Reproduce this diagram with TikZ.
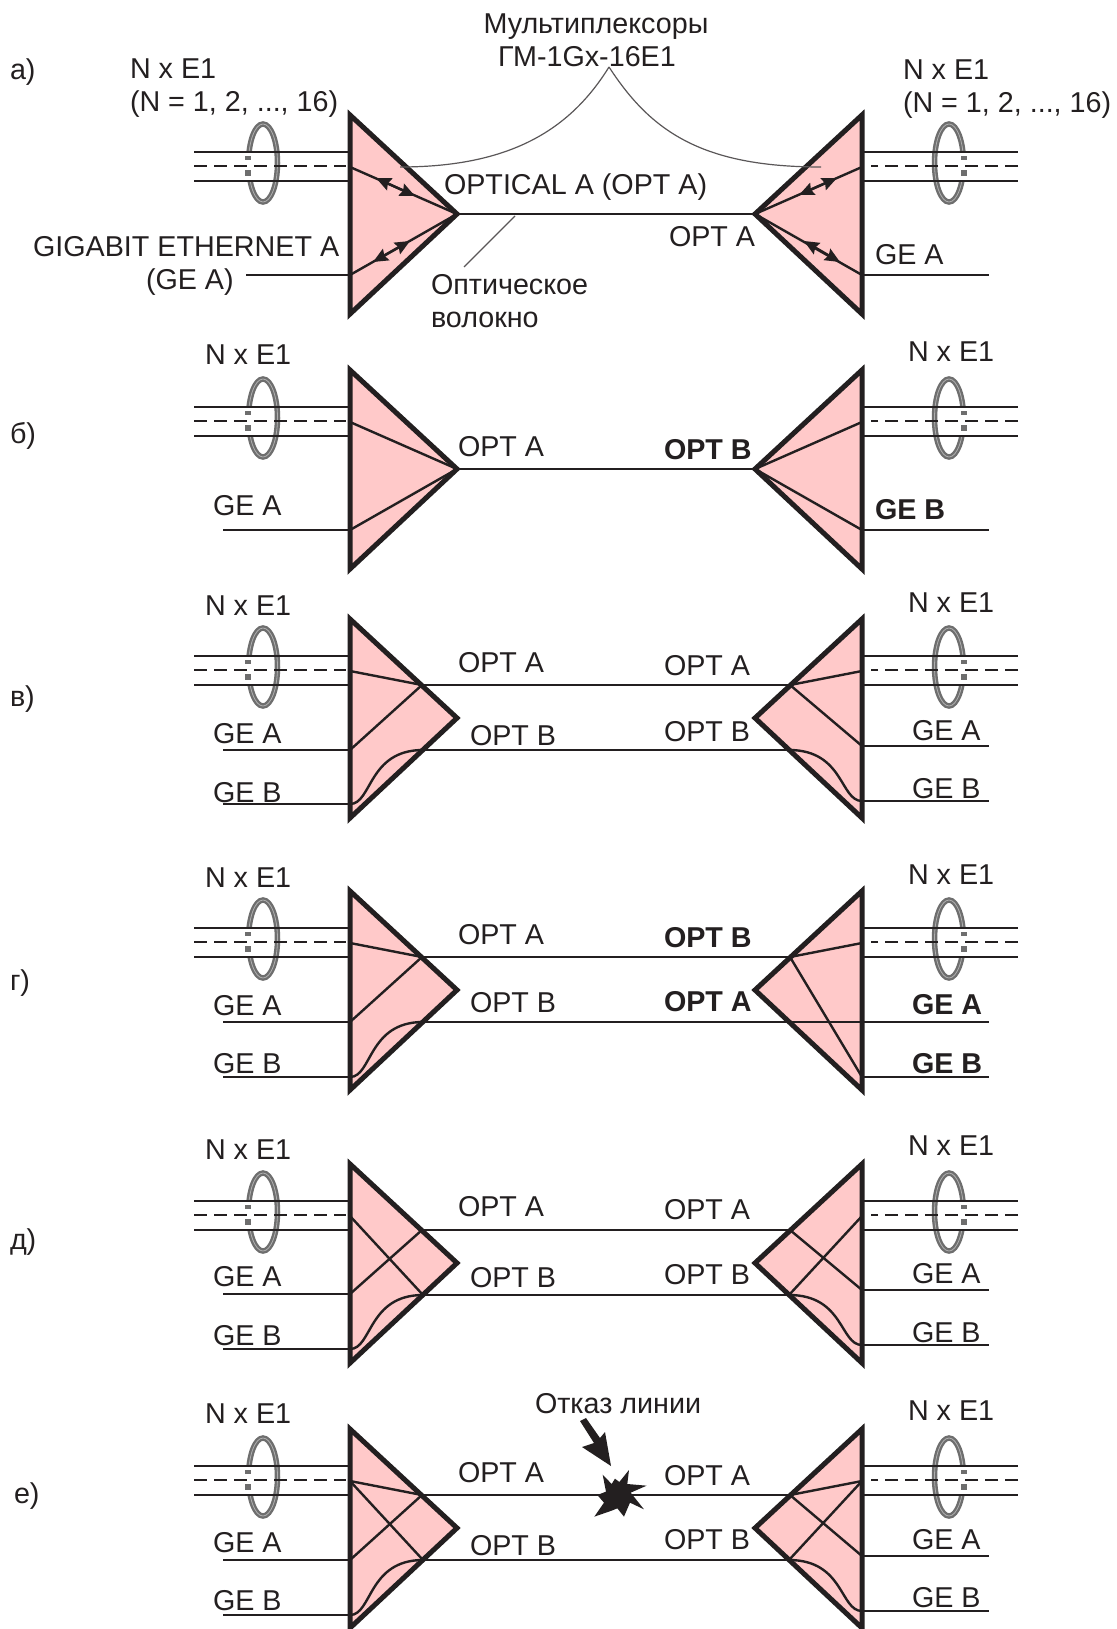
\documentclass[tikz,border=0pt]{standalone}
\usepackage{fontspec}
\setmainfont{Liberation Sans}
\usetikzlibrary{arrows.meta,calc}
\definecolor{muxpink}{HTML}{FFC9C9}
\definecolor{ink}{HTML}{231F20}
\definecolor{ringgray}{HTML}{6E6E6E}
\tikzset{
  lbl/.style={inner sep=0pt,outer sep=0pt,text=ink,font=\fontsize{28.7}{33}\selectfont,anchor=base west},
  lblc/.style={lbl,anchor=base},
  boldlbl/.style={lbl,font=\fontsize{28.7}{33}\selectfont\bfseries},
  wire/.style={draw=ink,line width=2.4pt},
  dashwire/.style={draw=ink,line width=2.4pt,dash pattern=on 13pt off 7pt},
  muxedge/.style={draw=ink,line width=5pt,miter limit=10},
  ringline/.style={draw=ringgray,line width=5.5pt},
  ringstripe/.style={draw=ringgray!55,line width=0.8pt},
  thinline/.style={draw=ink!75,line width=1.2pt},
  biarrow/.style={draw=ink,line width=2.4pt,{Stealth[length=15pt,width=13pt,inset=2pt]}-{Stealth[length=15pt,width=13pt,inset=2pt]}}
}
% common frame: triangles, rings, bundles
\newcommand{\MuxFrame}[1]{%
  \coordinate (#1-LT) at (350,-99);\coordinate (#1-LP) at (457,0);\coordinate (#1-LB) at (350,100);
  \coordinate (#1-RT) at (862,-99);\coordinate (#1-RP) at (755,0);\coordinate (#1-RB) at (862,100);
  \coordinate (#1-L1a) at (194,-62);\coordinate (#1-L1b) at (350,-62);
  \coordinate (#1-L2a) at (194,-48);\coordinate (#1-L2b) at (346,-48);
  \coordinate (#1-L3a) at (194,-33);\coordinate (#1-L3b) at (350,-33);
  \coordinate (#1-R1a) at (1018,-62);\coordinate (#1-R1b) at (862,-62);
  \coordinate (#1-R2a) at (1018,-48);\coordinate (#1-R2b) at (871,-48);
  \coordinate (#1-R3a) at (1018,-33);\coordinate (#1-R3b) at (862,-33);
  \coordinate (#1-LE) at (350,-47);\coordinate (#1-RE) at (862,-47);
  \coordinate (#1-TL) at (422,-33);\coordinate (#1-TR) at (790,-33);
  \coordinate (#1-BL) at (423,32);\coordinate (#1-BR) at (789,32);
  \fill[muxpink] (#1-LT) -- (#1-LP) -- (#1-LB) -- cycle;
  \fill[muxpink] (#1-RT) -- (#1-RP) -- (#1-RB) -- cycle;
  \draw[ringline] (263,-51) ellipse [x radius=14.5,y radius=39];
  \draw[ringline] (949,-51) ellipse [x radius=14.5,y radius=39];
  \draw[ringstripe] (263,-51) ellipse [x radius=14.5,y radius=39];
  \draw[ringstripe] (949,-51) ellipse [x radius=14.5,y radius=39];
  \fill[white] (243,-62) rectangle (253,-33);
  \fill[white] (959,-62) rectangle (969,-33);
  \fill[ringgray] (245,-58) rectangle (251,-54);\fill[ringgray] (245,-44) rectangle (251,-38);
  \fill[ringgray] (961,-58) rectangle (967,-54);\fill[ringgray] (961,-44) rectangle (967,-38);
  \draw[wire] (#1-L1a) -- (#1-L1b);\draw[dashwire] (#1-L2a) -- (#1-L2b);\draw[wire] (#1-L3a) -- (#1-L3b);
  \draw[wire] (#1-R1b) -- (#1-R1a);\draw[dashwire] (#1-R2a) -- (#1-R2b);\draw[wire] (#1-R3b) -- (#1-R3a);
}
\newcommand{\MuxEdges}[1]{%
  \draw[muxedge] (#1-LT) -- (#1-LP) -- (#1-LB) -- cycle;
  \draw[muxedge] (#1-RT) -- (#1-RP) -- (#1-RB) -- cycle;
}
% ports for the two-fibre panels: name, left A, left B, right A, right B
\newcommand{\GePorts}[5]{%
  \coordinate (#1-GLA) at (350,#2);\coordinate (#1-GLAe) at (223,#2);
  \coordinate (#1-GLB) at (350,#3);\coordinate (#1-GLBe) at (223,#3);
  \coordinate (#1-GRA) at (862,#4);\coordinate (#1-GRAe) at (989,#4);
  \coordinate (#1-GRB) at (862,#5);\coordinate (#1-GRBe) at (989,#5);
  \draw[wire] (#1-GLAe) -- (#1-GLA);\draw[wire] (#1-GLBe) -- (#1-GLB);
  \draw[wire] (#1-GRA) -- (#1-GRAe);\draw[wire] (#1-GRB) -- (#1-GRBe);
  \draw[wire] (#1-TL) -- (#1-TR);
  \draw[wire] (#1-BL) -- (#1-BR);
}
\newcommand{\LeftCurve}[1]{\draw[wire] (#1-GLB) .. controls ($(#1-GLB)+(22,0)$) and ($(#1-BL)+(-55,0)$) .. (#1-BL);}
\newcommand{\RightCurve}[1]{\draw[wire] (#1-GRB) .. controls ($(#1-GRB)+(-22,0)$) and ($(#1-BR)+(55,0)$) .. (#1-BR);}
\begin{document}
\begin{tikzpicture}[x=1pt,y=-1pt]
\useasboundingbox (0,0) rectangle (1116,1629);
\fill[white] (0,0) rectangle (1116,1629);

% ---------- panel a
\begin{scope}[shift={(0,214)}]
  \MuxFrame{a}
  \coordinate (a-GL) at (350,61);\coordinate (a-GLe) at (246,61);
  \coordinate (a-GR) at (862,61);\coordinate (a-GRe) at (989,61);
  \draw[wire] (a-GLe) -- (a-GL);\draw[wire] (a-GR) -- (a-GRe);
  \draw[wire] (a-LP) -- (a-RP);
  \draw[wire] (a-LE) -- (a-LP);\draw[wire] (a-GL) -- (a-LP);
  \draw[wire] (a-RE) -- (a-RP);\draw[wire] (a-GR) -- (a-RP);
  \coordinate (a-A1) at (376,-36);\coordinate (a-A2) at (415,-18);
  \coordinate (a-A3) at (373,48);\coordinate (a-A4) at (410,27);
  \coordinate (a-A5) at (799,-19);\coordinate (a-A6) at (837,-36);
  \coordinate (a-A7) at (804,27);\coordinate (a-A8) at (840,48);
  \draw[biarrow] (a-A1) -- (a-A2);\draw[biarrow] (a-A3) -- (a-A4);
  \draw[biarrow] (a-A5) -- (a-A6);\draw[biarrow] (a-A7) -- (a-A8);
  \MuxEdges{a}
\end{scope}
\coordinate (peak) at (609,67);\coordinate (muxL) at (400,167);\coordinate (muxR) at (821,167);
\draw[thinline] (peak) .. controls (570,130) and (510,167) .. (muxL);
\draw[thinline] (peak) .. controls (650,130) and (700,167) .. (muxR);
\coordinate (fibA) at (515,216);\coordinate (fibB) at (464,267);
\draw[thinline] (fibA) -- (fibB);

% ---------- panel b
\begin{scope}[shift={(0,469)}]
  \MuxFrame{b}
  \coordinate (b-GL) at (350,61);\coordinate (b-GLe) at (223,61);
  \coordinate (b-GR) at (862,61);\coordinate (b-GRe) at (989,61);
  \draw[wire] (b-GLe) -- (b-GL);\draw[wire] (b-GR) -- (b-GRe);
  \draw[wire] (b-LP) -- (b-RP);
  \draw[wire] (b-LE) -- (b-LP);\draw[wire] (b-GL) -- (b-LP);
  \draw[wire] (b-RE) -- (b-RP);\draw[wire] (b-GR) -- (b-RP);
  \MuxEdges{b}
\end{scope}

% ---------- panel v
\begin{scope}[shift={(0,718)}]
  \MuxFrame{c}
  \GePorts{c}{32}{86}{28}{83}
  \draw[wire] (c-LE) -- (c-TL);\draw[wire] (c-GLA) -- (c-TL);\LeftCurve{c}
  \draw[wire] (c-RE) -- (c-TR);\draw[wire] (c-GRA) -- (c-TR);\RightCurve{c}
  \MuxEdges{c}
\end{scope}

% ---------- panel g
\begin{scope}[shift={(0,990)}]
  \MuxFrame{d}
  \GePorts{d}{32}{87}{32}{87}
  \draw[wire] (d-BR) -- (d-GRA);
  \draw[wire] (d-LE) -- (d-TL);\draw[wire] (d-GLA) -- (d-TL);\LeftCurve{d}
  \draw[wire] (d-RE) -- (d-TR);\draw[wire] (d-GRB) -- (d-TR);
  \MuxEdges{d}
\end{scope}

% ---------- panel d
\begin{scope}[shift={(0,1263)}]
  \MuxFrame{e}
  \GePorts{e}{31}{86}{27}{82}
  \draw[wire] (e-GLA) -- (e-TL);\draw[wire] (e-LE) -- (e-BL);\LeftCurve{e}
  \draw[wire] (e-GRA) -- (e-TR);\draw[wire] (e-RE) -- (e-BR);\RightCurve{e}
  \MuxEdges{e}
\end{scope}

% ---------- panel e
\begin{scope}[shift={(0,1528)}]
  \MuxFrame{f}
  \GePorts{f}{32}{87}{28}{83}
  \draw[wire] (f-LE) -- (f-TL);\draw[wire] (f-GLA) -- (f-TL);\draw[wire] (f-LE) -- (f-BL);\LeftCurve{f}
  \draw[wire] (f-RE) -- (f-TR);\draw[wire] (f-GRA) -- (f-TR);\draw[wire] (f-RE) -- (f-BR);\RightCurve{f}
  \MuxEdges{f}
\end{scope}

% failure arrow and burst
\fill[ink] (580,1421) -- (586,1418) -- (600,1438) -- (605,1432) -- (611,1466) -- (582,1447) -- (594,1443) -- cycle;
\begin{scope}[shift={(500,1380)},scale=0.3333]
\fill[ink] (308,284) -- (335,312) -- (345,296) -- (358,306) -- (387,270) -- (382,312) -- (440,317) -- (392,338) -- (432,388) -- (390,368) -- (372,410) -- (352,385) -- (335,392) -- (283,410) -- (312,368) -- (292,345) -- (318,335) -- cycle;
\end{scope}

% ---------- labels
\begin{scope}[shift={(0,1)}]
\node[lbl] (la) at (10,79) {а)};
\node[lbl] (lb) at (10,442) {б)};
\node[lbl] (lc) at (10,705) {в)};
\node[lbl] (ld) at (10,989) {г)};
\node[lbl] (le) at (10,1248) {д)};
\node[lbl] (lf) at (14,1502) {е)};

\node[lblc] (muxA) at (596,33) {Мультиплексоры};
\node[lblc] (muxB) at (587,66) {ГМ-1Gx-16E1};
\node[lbl] (a1) at (130,78) {N x E1};
\node[lbl] (a2) at (130,111) {(N = 1, 2, ..., 16)};
\node[lbl] (a3) at (903,79) {N x E1};
\node[lbl] (a4) at (903,112) {(N = 1, 2, ..., 16)};
\node[lbl] (a5) at (444,194) {OPTICAL A (OPT A)};
\node[lbl] (a6) at (33,256) {GIGABIT ETHERNET A};
\node[lbl] (a7) at (146,288) {(GE A)};
\node[lbl] (a8) at (669,246) {OPT A};
\node[lbl] (a9) at (875,264) {GE A};
\node[lbl] (a10) at (431,293) {Оптическое};
\node[lbl] (a11) at (431,326) {волокно};

\node[lbl] (b1) at (205,363) {N x E1};
\node[lbl] (b2) at (908,360) {N x E1};
\node[lbl] (b3) at (458,455) {OPT A};
\node[boldlbl] (b4) at (664,458) {OPT B};
\node[lbl] (b5) at (213,514) {GE A};
\node[boldlbl] (b6) at (875,518) {GE B};

\node[lbl] (c1) at (205,614) {N x E1};
\node[lbl] (c2) at (908,611) {N x E1};
\node[lbl] (c3) at (458,671) {OPT A};
\node[lbl] (c4) at (664,674) {OPT A};
\node[lbl] (c5) at (470,744) {OPT B};
\node[lbl] (c6) at (664,740) {OPT B};
\node[lbl] (c7) at (213,742) {GE A};
\node[lbl] (c8) at (213,801) {GE B};
\node[lbl] (c9) at (912,739) {GE A};
\node[lbl] (c10) at (912,797) {GE B};

\node[lbl] (d1) at (205,886) {N x E1};
\node[lbl] (d2) at (908,883) {N x E1};
\node[lbl] (d3) at (458,943) {OPT A};
\node[boldlbl] (d4) at (664,946) {OPT B};
\node[lbl] (d5) at (470,1011) {OPT B};
\node[boldlbl] (d6) at (664,1010) {OPT A};
\node[lbl] (d7) at (213,1014) {GE A};
\node[lbl] (d8) at (213,1072) {GE B};
\node[boldlbl] (d9) at (912,1013) {GE A};
\node[boldlbl] (d10) at (912,1072) {GE B};

\node[lbl] (e1) at (205,1158) {N x E1};
\node[lbl] (e2) at (908,1154) {N x E1};
\node[lbl] (e3) at (458,1215) {OPT A};
\node[lbl] (e4) at (664,1218) {OPT A};
\node[lbl] (e5) at (470,1286) {OPT B};
\node[lbl] (e6) at (664,1283) {OPT B};
\node[lbl] (e7) at (213,1285) {GE A};
\node[lbl] (e8) at (213,1344) {GE B};
\node[lbl] (e9) at (912,1282) {GE A};
\node[lbl] (e10) at (912,1341) {GE B};

\node[lbl] (f1) at (205,1422) {N x E1};
\node[lbl] (f2) at (908,1419) {N x E1};
\node[lbl] (f3) at (458,1481) {OPT A};
\node[lbl] (f4) at (664,1484) {OPT A};
\node[lbl] (f5) at (470,1554) {OPT B};
\node[lbl] (f6) at (664,1548) {OPT B};
\node[lbl] (f7) at (213,1551) {GE A};
\node[lbl] (f8) at (213,1609) {GE B};
\node[lbl] (f9) at (912,1548) {GE A};
\node[lbl] (f10) at (912,1606) {GE B};
\node[lbl] (f11) at (535,1412) {Отказ линии};
\end{scope}
\end{tikzpicture}
\end{document}
